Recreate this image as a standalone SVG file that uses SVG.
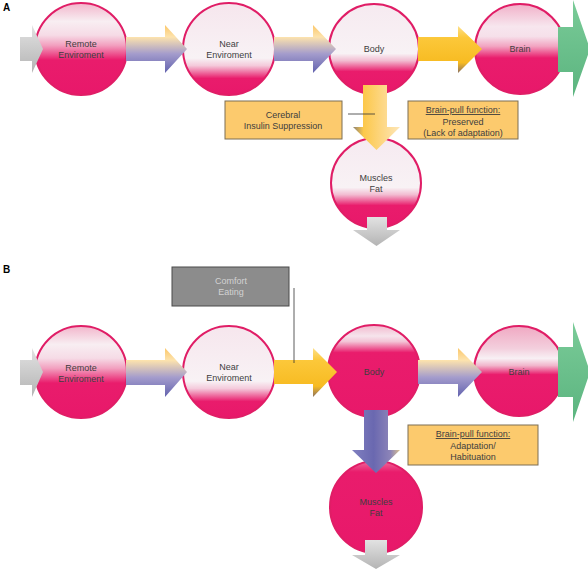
<svg xmlns="http://www.w3.org/2000/svg" width="588" height="569" viewBox="0 0 588 569">
<style>
  text { font-family: "Liberation Sans", Arial, sans-serif; font-size: 9px; fill: #3e3e3e; text-anchor: middle; }
  .lbl { font-weight: bold; font-size: 10px; fill: #000; text-anchor: start; }
  .circ { stroke: #e01d66; stroke-width: 2; }
  .box { fill: #fcca6d; stroke: #7d6e55; stroke-width: 1; }
  .gbox { fill: #8c8c8c; stroke: #4a4a4a; stroke-width: 1; }
  .gtext { fill: #d2d2d2; }
  .ul { text-decoration: underline; }
  .line { stroke: #333; stroke-width: 0.8; fill: none; }
</style>
<defs>
  <linearGradient id="gRemote" x1="0" y1="0" x2="0" y2="1">
    <stop offset="0" stop-color="#f2b5cb"/><stop offset="0.2" stop-color="#f8eef2"/>
    <stop offset="0.35" stop-color="#f6dbe6"/><stop offset="0.46" stop-color="#f2a0bf"/>
    <stop offset="0.62" stop-color="#e91c6c"/><stop offset="1" stop-color="#e8186a"/>
  </linearGradient>
  <linearGradient id="gNear" x1="0" y1="0" x2="0" y2="1">
    <stop offset="0" stop-color="#f6e6ed"/><stop offset="0.6" stop-color="#f8f2f5"/>
    <stop offset="0.68" stop-color="#f4cadb"/><stop offset="0.82" stop-color="#e91c6c"/>
    <stop offset="1" stop-color="#e8186a"/>
  </linearGradient>
  <linearGradient id="gBodyA" x1="0" y1="0" x2="0" y2="1">
    <stop offset="0" stop-color="#f6eaf0"/><stop offset="0.55" stop-color="#f8f2f5"/>
    <stop offset="0.63" stop-color="#f2bcd1"/><stop offset="0.75" stop-color="#e91c6c"/>
    <stop offset="1" stop-color="#e8186a"/>
  </linearGradient>
  <linearGradient id="gBrainA" x1="0" y1="0" x2="0" y2="1">
    <stop offset="0" stop-color="#f1b0c8"/><stop offset="0.25" stop-color="#f7e6ee"/>
    <stop offset="0.36" stop-color="#f6e0ea"/><stop offset="0.47" stop-color="#f2a4c1"/>
    <stop offset="0.6" stop-color="#e91c6c"/><stop offset="1" stop-color="#e8186a"/>
  </linearGradient>
  <linearGradient id="gBodyB" x1="0" y1="0" x2="0" y2="1">
    <stop offset="0" stop-color="#f2b8cd"/><stop offset="0.12" stop-color="#f6e4ec"/>
    <stop offset="0.18" stop-color="#f3c4d6"/><stop offset="0.3" stop-color="#e91c6c"/>
    <stop offset="1" stop-color="#e8186a"/>
  </linearGradient>
  <linearGradient id="gBrainB" x1="0" y1="0" x2="0" y2="1">
    <stop offset="0" stop-color="#f0a8c2"/><stop offset="0.25" stop-color="#f3cfdd"/>
    <stop offset="0.36" stop-color="#f8f0f4"/><stop offset="0.44" stop-color="#f1b5cb"/>
    <stop offset="0.54" stop-color="#e91c6c"/><stop offset="1" stop-color="#e8186a"/>
  </linearGradient>
  <linearGradient id="gMusclesB" x1="0" y1="0" x2="0" y2="1">
    <stop offset="0" stop-color="#ef6a9a"/><stop offset="0.12" stop-color="#e91c6c"/>
    <stop offset="1" stop-color="#e8186a"/>
  </linearGradient>
  <linearGradient id="gPurple" x1="0" y1="0" x2="0" y2="1">
    <stop offset="0" stop-color="#fbc76a"/><stop offset="0.25" stop-color="#fde3ad"/>
    <stop offset="0.6" stop-color="#a49ccc"/><stop offset="1" stop-color="#6262ae"/>
  </linearGradient>
  <linearGradient id="gGold" x1="0" y1="0" x2="0" y2="1">
    <stop offset="0" stop-color="#fde08a"/><stop offset="0.25" stop-color="#fcc83a"/>
    <stop offset="0.78" stop-color="#f7bb22"/><stop offset="1" stop-color="#8a7060"/>
  </linearGradient>
  <linearGradient id="gGoldDown" x1="0" y1="0" x2="1" y2="0">
    <stop offset="0" stop-color="#8c8272"/><stop offset="0.22" stop-color="#fcc84a"/>
    <stop offset="0.6" stop-color="#fdd680"/><stop offset="1" stop-color="#fde6b8"/>
  </linearGradient>
  <linearGradient id="gPurpleDown" x1="0" y1="0" x2="1" y2="0">
    <stop offset="0" stop-color="#8080c0"/><stop offset="0.45" stop-color="#6a68b0"/>
    <stop offset="0.8" stop-color="#8c84b8"/><stop offset="1" stop-color="#d8c090"/>
  </linearGradient>
  <linearGradient id="gGray" x1="0" y1="0" x2="0" y2="1">
    <stop offset="0" stop-color="#e2e2e2"/><stop offset="1" stop-color="#b4b4b4"/>
  </linearGradient>
  <linearGradient id="gGreen" x1="0" y1="0" x2="0" y2="1">
    <stop offset="0" stop-color="#7acb98"/><stop offset="1" stop-color="#5bb47f"/>
  </linearGradient>
</defs>
<rect width="588" height="569" fill="#fff"/>

<text class="lbl" x="3" y="11">A</text>
<text class="lbl" x="3" y="273">B</text>

<!-- Panel A nodes -->
<g id="a-remote"><circle class="circ" cx="81" cy="49" r="46" fill="url(#gRemote)"/><text x="81" y="47">Remote</text><text x="81" y="58">Enviroment</text></g>
<g id="a-near"><circle class="circ" cx="229" cy="49" r="46" fill="url(#gNear)"/><text x="229" y="47">Near</text><text x="229" y="58">Enviroment</text></g>
<g id="a-body"><circle class="circ" cx="374" cy="49" r="45" fill="url(#gBodyA)"/><text x="374" y="52">Body</text></g>
<g id="a-brain"><circle class="circ" cx="520" cy="49" r="45" fill="url(#gBrainA)"/><text x="520" y="52">Brain</text></g>
<g id="a-muscles"><circle class="circ" cx="376" cy="183" r="45" fill="url(#gBodyA)"/><text x="376" y="181">Muscles</text><text x="376" y="192">Fat</text></g>
<g id="a-cerebral"><rect class="box" x="225" y="101" width="117" height="38"/><text x="283" y="118">Cerebral</text><text x="283" y="129">Insulin Suppression</text></g>
<g id="a-brainpull"><rect class="box" x="408" y="101" width="110" height="38"/><text class="ul" x="463" y="113">Brain-pull function:</text><text x="463" y="125">Preserved</text><text x="463" y="136">(Lack of adaptation)</text></g>

<!-- Panel B nodes -->
<g id="b-remote"><circle class="circ" cx="81" cy="372" r="46" fill="url(#gRemote)"/><text x="81" y="371">Remote</text><text x="81" y="382">Enviroment</text></g>
<g id="b-near"><circle class="circ" cx="229" cy="372" r="46" fill="url(#gNear)"/><text x="229" y="370">Near</text><text x="229" y="381">Enviroment</text></g>
<g id="b-body"><circle class="circ" cx="374" cy="371" r="46" fill="url(#gBodyB)"/><text x="374" y="375">Body</text></g>
<g id="b-brain"><circle class="circ" cx="519" cy="371" r="45" fill="url(#gBrainB)"/><text x="519" y="375">Brain</text></g>
<g id="b-muscles"><circle class="circ" cx="376" cy="507" r="46" fill="url(#gMusclesB)"/><text x="376" y="505">Muscles</text><text x="376" y="516">Fat</text></g>
<g id="b-comfort"><rect class="gbox" x="172" y="267" width="117" height="39"/><text class="gtext" x="231" y="284">Comfort</text><text class="gtext" x="231" y="295">Eating</text></g>
<g id="b-brainpull"><rect class="box" x="408" y="425" width="130" height="40"/><text class="ul" x="473" y="437">Brain-pull function:</text><text x="473" y="449">Adaptation/</text><text x="473" y="460">Habituation</text></g>

<!-- Connectors -->
<g id="connectors">
  <path d="M20,37 H32 V25 L43,49 L32,73 V61 H20 Z" fill="url(#gGray)"/>
  <path d="M126,37 H165 V25 L187,49 L165,73 V61 H126 Z" fill="url(#gPurple)"/>
  <path d="M274,37 H313 V25 L336,49 L313,73 V61 H274 Z" fill="url(#gPurple)"/>
  <path d="M418,37 H458 V26 L482,49 L458,73 V61 H418 Z" fill="url(#gGold)"/>
  <path d="M558,27 H573 V0 L590,49 L573,97 V72 H558 Z" fill="url(#gGreen)"/>
  <path d="M363,85 H387 V127 H400 L376.5,150 L353,127 H363 Z" fill="url(#gGoldDown)"/>
  <path d="M367,217 H387 V230 H400 L376.5,246 L353,230 H367 Z" fill="url(#gGray)"/>
  <line class="line" x1="348" y1="114" x2="375" y2="114"/>

  <path d="M20,360 H32 V348 L43,372 L32,397 V385 H20 Z" fill="url(#gGray)"/>
  <path d="M126,360 H165 V348 L187,372 L165,397 V385 H126 Z" fill="url(#gPurple)"/>
  <path d="M274,360 H313 V348 L337,372 L313,397 V384 H274 Z" fill="url(#gGold)"/>
  <path d="M418,360 H458 V348 L482,372 L458,397 V384 H418 Z" fill="url(#gPurple)"/>
  <path d="M558,347 H573 V322 L590,372 L573,422 V397 H558 Z" fill="url(#gGreen)"/>
  <path d="M364,410 H388 V450 H400 L376,473 L352,450 H364 Z" fill="url(#gPurpleDown)"/>
  <path d="M365,540 H387 V555 H400 L376,569 L352,555 H365 Z" fill="url(#gGray)"/>
  <line class="line" x1="294" y1="288" x2="294" y2="363"/>
</g>
</svg>
